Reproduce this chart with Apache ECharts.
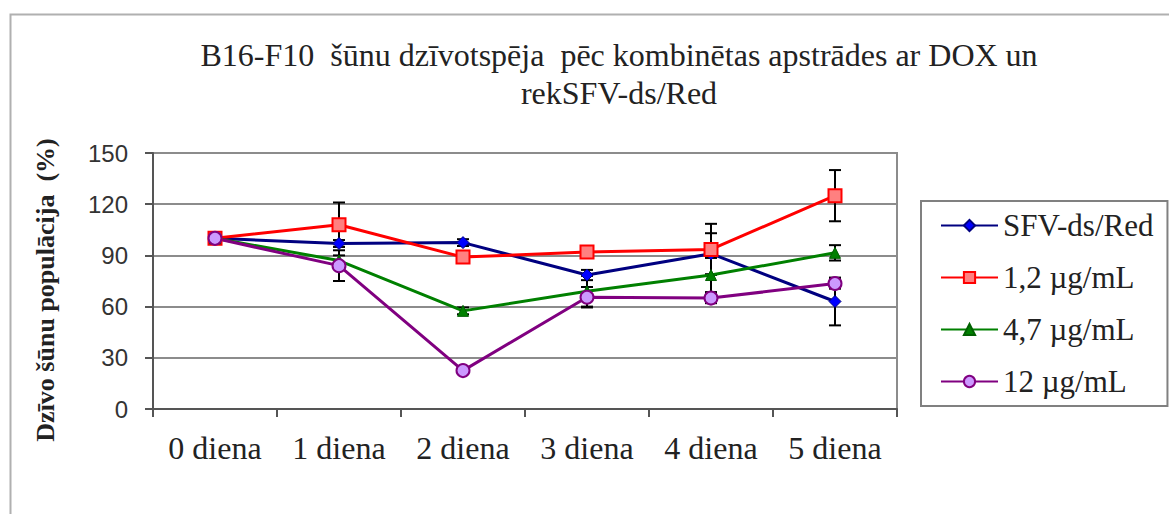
<!DOCTYPE html>
<html>
<head>
<meta charset="utf-8">
<script src="https://cdn.jsdelivr.net/npm/echarts@6/dist/echarts.min.js"></script>
<style>
  html, body { margin: 0; padding: 0; background: #fff; }
  #chart { width: 1169px; height: 514px; }
</style>
</head>
<body>
<div id="chart"></div>
<script>
const categories = ['0 diena', '1 diena', '2 diena', '3 diena', '4 diena', '5 diena'];
const seriesNames = ['SFV-ds/Red', '1,2 µg/mL', '4,7 µg/mL', '12 µg/mL'];
const sfvValues  = [100, 97, 97.5, 78.5, 91, 63];
const c12Values  = [100, 108, 89, 92, 93.5, 125];
const c47Values  = [100, 87, 57.5, 69, 78.5, 91.5];
const c120Values = [100, 84, 22.5, 65.5, 65, 73.5];
const sfvErr  = [0, 2, 2, 3, 12, 14];
const c12Err  = [0, 13, 2, 3, 15, 15];
const c47Err  = [0, 3, 2, 9, 10, 4.5];
const c120Err = [0, 9, 1, 6, 3, 3];
const yTicks = { min: 0, max: 150, interval: 30 };

const serif = 'Liberation Serif, Times New Roman, serif';
const sans = 'Liberation Sans, Arial, sans-serif';

const lineSpecs = [
  { name: seriesNames[0], data: sfvValues, err: sfvErr, line: '#000080', symbol: 'diamond', size: 12, fill: '#0000ff', border: '#000080', bw: 1 },
  { name: seriesNames[1], data: c12Values, err: c12Err, line: '#ff0000', symbol: 'rect', size: 13, fill: '#ff8080', border: '#ff0000', bw: 2 },
  { name: seriesNames[2], data: c47Values, err: c47Err, line: '#008000', symbol: 'triangle', size: 11, fill: '#008000', border: '#006000', bw: 1 },
  { name: seriesNames[3], data: c120Values, err: c120Err, line: '#800080', symbol: 'circle', size: 13, fill: '#cc99ff', border: '#800080', bw: 2 }
];

function errRender(params, api) {
  const x = api.value(0), v = api.value(1), e = api.value(2);
  if (!e) return null;
  const top = api.coord([x, v + e]);
  const bot = api.coord([x, v - e]);
  const w = 6;
  const st = { stroke: '#000', lineWidth: 2 };
  return {
    type: 'group',
    children: [
      { type: 'line', shape: { x1: top[0], y1: top[1], x2: bot[0], y2: bot[1] }, style: st },
      { type: 'line', shape: { x1: top[0] - w, y1: top[1], x2: top[0] + w, y2: top[1] }, style: st },
      { type: 'line', shape: { x1: bot[0] - w, y1: bot[1], x2: bot[0] + w, y2: bot[1] }, style: st }
    ]
  };
}

const series = [];
lineSpecs.forEach(s => {
  series.push({
    type: 'custom',
    name: s.name + ' err',
    renderItem: errRender,
    data: s.data.map((v, i) => [i, v, s.err[i]]),
    encode: { x: 0, y: 1 },
    z: 1,
    silent: true
  });
});
lineSpecs.forEach(s => {
  series.push({
    type: 'line',
    name: s.name,
    data: s.data,
    z: 3,
    symbol: s.symbol,
    symbolSize: s.size,
    showAllSymbol: true,
    lineStyle: { color: s.line, width: 3 },
    itemStyle: { color: s.fill, borderColor: s.border, borderWidth: s.bw },
    color: s.line
  });
});

const chart = echarts.init(document.getElementById('chart'), null, { renderer: 'svg' });
chart.setOption({
  animation: false,
  backgroundColor: '#fff',
  graphic: [
    { type: 'rect', left: 8, top: 12, shape: { width: 1300, height: 600 }, style: { fill: 'none', stroke: '#b0b0b0', lineWidth: 2 }, z: -10 }
  ],
  title: {
    text: 'B16-F10  šūnu dzīvotspēja  pēc kombinētas apstrādes ar DOX un\nrekSFV-ds/Red',
    left: 614,
    textAlign: 'center',
    top: 31,
    textStyle: { fontFamily: serif, fontSize: 32, fontWeight: 'normal', color: '#222', lineHeight: 38 }
  },
  legend: {
    data: seriesNames,
    orient: 'vertical',
    left: 921,
    top: 201,
    padding: [9, 14, 9, 19],
    itemWidth: 57,
    itemHeight: 14,
    itemGap: 21,
    borderColor: '#808080',
    borderWidth: 2,
    backgroundColor: '#fff',
    textStyle: { fontFamily: serif, fontSize: 31, color: '#222', lineHeight: 30 }
  },
  grid: {
    left: 153, right: 272, top: 153, bottom: 105,
    show: true, borderColor: '#8c8c8c', borderWidth: 2, backgroundColor: '#fff'
  },
  xAxis: {
    type: 'category',
    data: categories,
    boundaryGap: true,
    axisLine: { lineStyle: { color: '#555', width: 2 } },
    axisTick: { show: true, length: 8, lineStyle: { color: '#555', width: 2 } },
    axisLabel: { interval: 0, fontFamily: serif, fontSize: 32, color: '#222', margin: 23 },
    splitLine: { show: false }
  },
  yAxis: {
    type: 'value',
    min: yTicks.min, max: yTicks.max, interval: yTicks.interval,
    name: 'Dzīvo šūnu populācija  (%)',
    nameLocation: 'middle',
    nameGap: 95,
    nameTextStyle: { fontFamily: serif, fontSize: 26, fontWeight: 'bold', color: '#222', padding: [0, 18, 0, 0] },
    axisLine: { show: true, lineStyle: { color: '#555', width: 2 } },
    axisTick: { show: true, length: 8, lineStyle: { color: '#555', width: 2 } },
    axisLabel: { fontFamily: sans, fontSize: 24, color: '#333', margin: 25 },
    splitLine: { show: true, lineStyle: { color: '#8c8c8c', width: 2 } }
  },
  series: series
});
</script>
</body>
</html>
